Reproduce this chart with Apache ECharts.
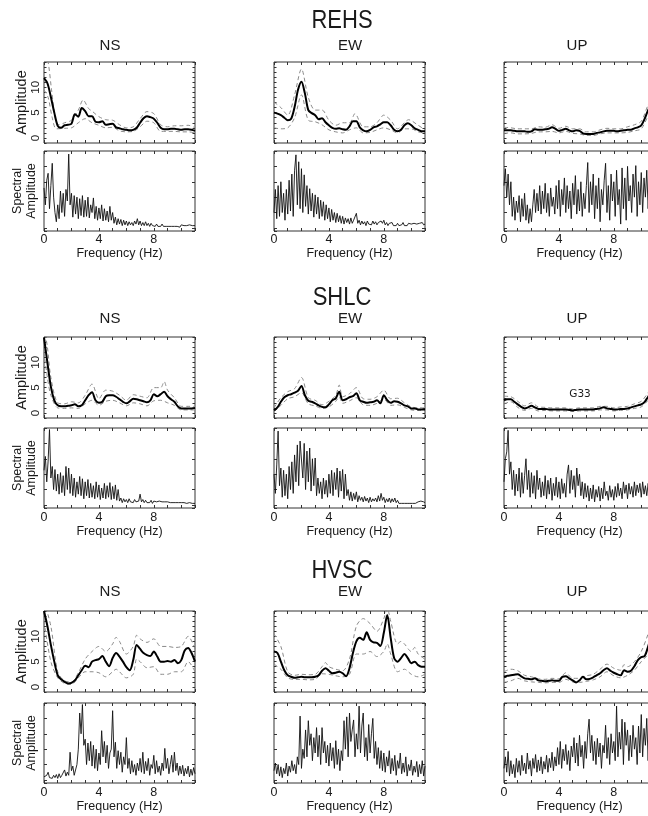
<!DOCTYPE html>
<html><head><meta charset="utf-8">
<script src="https://cdn.jsdelivr.net/npm/echarts@6/dist/echarts.min.js"></script>
<style>html,body{margin:0;padding:0;background:#fff}#c{width:648px;height:816px}</style>
</head><body><div id="c"></div>
<script>
// ---------- labels ----------
const stations = ['REHS', 'SHLC', 'HVSC'];
const components = ['NS', 'EW', 'UP'];
const xTickLabels = [0, 4, 8];
const ampTickLabels = [0, 5, 10];
const AMP_STEP = 0.25;   // Hz between mean-curve samples
const SPEC_STEP = 0.1;   // Hz between spectrum samples

// ---------- REHS ----------
const REHS_NS_mean = [11.8,10.8,8.1,5.0,2.4,2.0,2.5,2.6,2.8,4.7,4.2,5.9,5.3,4.3,4.3,3.2,3.1,3.3,2.6,2.7,2.8,2.1,1.9,1.7,1.6,1.5,1.6,2.0,3.0,3.9,4.3,4.1,3.8,3.0,2.0,1.7,1.7,1.8,1.8,1.7,1.6,1.7,1.7,1.6,1.4];
const REHS_NS_upper = [[0,18],[0.3,15],[0.55,9.5],[0.85,3.5],[1.1,2.6],[1.5,3.0],[2,3.5],[2.5,5.5],[2.85,7.5],[3.25,5.8],[3.5,5.3],[4,4.2],[4.5,3.6],[5,3.5],[5.5,2.6],[6,2.0],[6.5,2.2],[7,3.8],[7.5,5.2],[8,4.8],[8.5,2.6],[9,2.2],[9.5,2.4],[10,2.4],[10.5,2.5],[11,2.0]];
const REHS_NS_lower = [[0,9.5],[0.3,8],[0.6,4],[0.9,1.8],[1.5,1.9],[2,2.0],[2.5,3.0],[3,3.8],[3.5,3.0],[4,2.5],[4.5,2.0],[5,2.1],[5.5,1.4],[6,1.2],[6.5,1.3],[7,2.2],[7.5,3.3],[8,3.0],[8.5,1.3],[9,1.3],[9.5,1.3],[10,1.2],[10.5,1.2],[11,1.0]];
const REHS_NS_spec = [52,30,62,71,25,55,84,40,20,8, 30,12,48,20,45,15,50,35,96,30, 45,14,42,18,40,12,38,16,42,14, 36,15,40,13,30,20,39,12,28,10, 26,12,30,9,25,10,22,8,28,10, 20,6,14,4,12,5,11,3,10,4, 9,3,8,4,7,3,9,5,12,4, 9,3,7,3,8,3,6,2,6,3, 5,2,5,2,4,2,5,2,4,2, 4,2,4,2,3,2,4,2,3,1, 4,2,3,1,3,2,4,2,3,2, 3];

const REHS_EW_mean = [5.0,4.8,4.5,4.0,3.5,3.8,6.1,9.5,11.1,8.8,5.5,4.9,4.5,3.7,3.9,3.1,2.5,2.0,1.8,1.9,1.7,1.6,2.3,3.3,3.3,2.1,1.5,1.3,1.6,2.1,2.3,2.7,3.1,3.1,2.5,1.6,1.3,1.6,2.5,2.9,2.5,1.9,1.6,1.3,1.3];
const REHS_EW_upper = [[0,7.1],[0.5,6.0],[1,4.5],[1.5,8.5],[2,13.6],[2.5,8.0],[3,5.5],[3.5,5.5],[4,3.5],[4.5,2.5],[5,3.0],[5.5,3.0],[5.9,4.8],[6.5,2.2],[7,2.2],[7.5,3.0],[8,4.5],[8.5,3.5],[9,1.8],[9.5,3.0],[9.8,3.6],[10.5,2.5],[11,1.6]];
const REHS_EW_lower = [[0,2.0],[0.5,1.8],[1,2.0],[1.5,4.0],[2,8.5],[2.5,3.5],[3,3.2],[3.5,2.6],[4,1.6],[4.5,1.2],[5,1.0],[5.5,1.6],[6,2.0],[6.5,1.0],[7,1.1],[7.5,1.6],[8,2.0],[8.5,1.6],[9,1.0],[9.5,1.8],[10,1.8],[10.5,1.2],[11,1.0]];
const REHS_EW_spec = [20,50,12,55,15,60,20,45,10,50, 18,62,22,70,15,75,95,30,86,25, 77,20,69,28,55,18,51,22,45,14, 43,18,40,12,36,15,34,10,30,12, 26,8,24,10,20,7,19,8,16,6, 15,5,13,7,12,5,13,6,10,8, 19,6,10,4,9,5,8,3,9,5, 7,4,9,5,8,4,7,5,9,6, 10,4,7,3,6,4,7,3,5,3, 6,3,5,4,7,3,5,3,6,4, 5,3,6,4,5,3,6,4,7,4, 5];

const REHS_UP_mean = [1.5,1.5,1.5,1.4,1.3,1.3,1.3,1.2,1.3,1.7,1.6,1.6,1.7,1.8,2.1,1.8,1.4,1.6,1.8,1.5,1.3,1.5,1.4,0.9,0.8,0.8,0.8,1.0,1.1,1.3,1.4,1.4,1.4,1.3,1.4,1.5,1.6,1.6,1.9,2.1,2.5,3.8,5.5,6.5,7.5];
const REHS_UP_upper = [[0,2.1],[0.5,2.0],[1,1.8],[1.5,1.8],[2,1.8],[2.5,2.2],[3,2.1],[3.5,2.6],[4,1.9],[4.5,2.3],[5,1.8],[5.5,1.8],[6,1.2],[6.5,1.2],[7,1.6],[7.5,1.9],[8,1.8],[8.5,1.8],[9,2.2],[9.5,2.6],[10,3.3],[10.5,6.5],[11,8.5]];
const REHS_UP_lower = [[0,0.9],[0.5,1.0],[1,0.8],[1.5,0.8],[2,0.9],[2.5,1.2],[3,1.2],[3.5,1.3],[4,1.0],[4.5,1.3],[5,0.9],[5.5,0.8],[6,0.5],[6.5,0.5],[7,0.8],[7.5,1.0],[8,1.0],[8.5,1.0],[9,1.1],[9.5,1.4],[10,1.8],[10.5,4.3],[11,6.0]];
const REHS_UP_spec = [55,77,40,70,30,60,15,40,10,35, 20,42,8,38,15,45,10,30,6,25, 8,30,50,20,45,22,55,18,48,25, 58,20,45,15,52,28,40,18,55,25, 62,15,50,30,65,20,55,25,48,12, 58,30,68,18,50,22,60,15,45,25, 55,85,20,60,30,70,12,55,25,65, 8,50,30,62,84,20,55,10,70,35, 60,15,75,30,50,5,78,25,65,10, 80,35,55,20,70,40,81,15,60,30, 72,20,65,40,75,25,60,35,70,20, 55];

// ---------- SHLC ----------
const SHLC_NS_mean = [14.9,9.9,5.2,2.5,1.5,1.3,1.3,1.4,1.5,1.7,1.3,1.5,2.5,3.5,4.1,2.5,2.0,2.2,3.3,3.5,3.5,3.2,2.7,2.2,1.9,2.3,2.8,2.7,2.5,2.3,2.1,2.5,3.7,3.3,3.7,4.2,3.3,2.7,2.2,1.3,0.9,0.9,0.9,0.9,1.0];
const SHLC_NS_upper = [[0,17],[0.25,13],[0.5,7],[1,2.0],[1.5,1.8],[2,2.2],[2.5,2.0],[3,3.5],[3.5,5.7],[4,2.8],[4.5,4.5],[5,4.3],[5.5,3.5],[6,2.5],[6.5,3.6],[7,3.3],[7.5,3.0],[8,5.0],[8.5,5.0],[8.75,6.2],[9,4.5],[9.5,3.0],[10,1.3],[10.5,1.3],[11,1.3]];
const SHLC_NS_lower = [[0,12],[0.25,7],[0.5,3.5],[1,1.0],[1.5,0.9],[2,1.0],[2.5,0.9],[3,1.8],[3.5,2.5],[4,1.5],[4.5,2.3],[5,2.5],[5.5,2.0],[6,1.4],[6.5,2.0],[7,1.8],[7.5,1.4],[8,2.4],[8.5,2.5],[9,2.0],[9.5,1.5],[10,0.6],[10.5,0.6],[11,0.6]];
const SHLC_NS_spec = [45,63,30,57,98,35,50,20,46,18, 40,14,42,16,38,12,50,20,48,15, 40,12,35,10,30,14,37,12,34,8, 30,12,33,9,28,10,25,8,30,10, 26,7,22,9,28,8,25,10,29,7, 24,8,26,6,20,5,9,3,8,4, 7,3,8,4,6,3,7,4,6,5, 14,4,7,3,6,3,5,3,6,2, 5,3,4,2,5,3,4,2,4,2, 4,2,3,2,3,1,3,2,3,1, 3,2,3,1,2,1,3,1,2,3, 2];

const SHLC_EW_mean = [0.5,1.1,2.2,3.1,3.5,3.7,4.0,4.4,5.3,3.5,2.4,2.2,1.9,1.5,1.2,1.1,1.7,2.5,2.9,4.2,2.5,2.7,3.1,3.3,3.9,2.5,2.2,2.0,2.1,2.2,2.5,1.9,3.5,2.5,2.0,2.3,2.2,1.9,1.5,1.3,0.9,0.9,0.7,0.7,0.7];
const SHLC_EW_upper = [[0,1.0],[0.5,3.0],[1,4.2],[1.5,4.8],[2,7.0],[2.5,3.0],[3,2.5],[3.5,1.6],[4,2.3],[4.5,3.5],[4.75,5.5],[5,3.2],[5.5,3.8],[6,5.0],[6.5,2.8],[7,2.7],[7.5,3.2],[8,4.5],[8.5,2.8],[9,2.9],[9.5,2.0],[10,1.2],[10.5,1.0],[11,1.0]];
const SHLC_EW_lower = [[0,0.2],[0.5,1.5],[1,2.8],[1.5,3.2],[2,4.0],[2.5,1.8],[3,1.4],[3.5,0.9],[4,1.2],[4.5,2.3],[4.75,3.2],[5,1.9],[5.5,2.4],[6,3.0],[6.5,1.6],[7,1.5],[7.5,1.9],[8,2.7],[8.5,1.5],[9,1.6],[9.5,1.1],[10,0.6],[10.5,0.5],[11,0.5]];
const SHLC_EW_spec = [40,15,52,96,25,48,10,45,12,40, 8,50,20,56,15,65,30,78,25,83, 85,35,80,20,70,30,74,18,60,25, 61,12,35,15,30,8,35,14,32,10, 40,15,45,12,42,20,48,10,44,18, 46,8,40,12,20,6,17,5,15,7, 17,4,12,6,10,4,11,5,9,3, 10,4,8,5,9,4,12,5,15,6, 10,3,8,4,9,3,8,4,9,3, 6,2,4,2,4,2,3,2,4,2, 3,2,4,2,3,4,2,5,3,4, 3];

const SHLC_UP_mean = [2.5,2.7,2.7,2.2,1.7,1.2,0.9,1.1,1.4,1.1,0.8,0.8,0.8,0.7,0.7,0.7,0.7,0.7,0.7,0.6,0.5,0.6,0.7,0.7,0.7,0.7,0.7,0.8,0.9,1.1,0.9,0.8,0.7,0.7,0.8,0.8,0.9,1.1,1.3,1.5,1.7,2.2,3.2,4.0,5.0];
const SHLC_UP_upper = [[0,3.3],[0.5,3.2],[1,2.3],[1.5,1.4],[2,2.0],[2.5,1.2],[3,1.1],[3.5,1.0],[4,1.0],[4.5,1.0],[5,0.8],[5.5,1.0],[6,1.0],[6.5,1.0],[7,1.3],[7.5,1.3],[8,1.0],[8.5,1.2],[9,1.3],[9.5,1.8],[10,2.3],[10.5,4.0],[11,6.0]];
const SHLC_UP_lower = [[0,1.8],[0.5,2.2],[1,1.1],[1.5,0.5],[2,0.9],[2.5,0.4],[3,0.5],[3.5,0.4],[4,0.4],[4.5,0.4],[5,0.3],[5.5,0.4],[6,0.4],[6.5,0.4],[7,0.6],[7.5,0.6],[8,0.4],[8.5,0.5],[9,0.6],[9.5,0.9],[10,1.2],[10.5,2.5],[11,4.0]];
const SHLC_UP_spec = [30,60,69,97,40,56,20,45,12,40, 18,48,10,42,15,38,60,20,45,10, 42,15,38,8,45,20,35,10,30,12, 38,8,32,14,35,6,28,12,36,10, 30,8,34,15,28,10,40,52,15,45, 20,38,10,48,25,40,12,30,8,28, 10,25,5,22,8,26,4,20,10,24, 5,22,8,30,12,18,6,25,10,20, 6,24,10,28,12,22,8,30,15,26, 8,28,14,24,10,30,12,26,16,28, 10,30,14,25,12,28,15,22,10,26, 14];

// ---------- HVSC ----------
const HVSC_NS_mean = [15,12,8.3,5.0,2.3,1.5,1.0,0.7,0.8,1.3,2.3,3.3,4.2,3.9,5.0,5.3,5.5,6.1,5.0,4.1,5.7,6.7,6.0,5.0,3.9,3.3,5.3,8.3,7.5,6.7,6.3,6.1,7.0,6.0,5.0,5.0,5.1,5.0,5.3,4.7,5.3,7.2,7.7,6.7,5.0];
const HVSC_NS_upper = [[0,17],[0.5,12],[1,3.0],[1.5,1.2],[2,1.0],[2.5,2.8],[3,5.5],[3.5,7.0],[4,8.0],[4.5,7.0],[5,8.5],[5.25,9.8],[5.5,9.0],[6,6.5],[6.5,8.0],[6.75,10.2],[7,9.5],[7.5,8.8],[8,9.5],[8.5,8.0],[9,8.0],[9.5,7.8],[10,8.0],[10.5,10.0],[11,7.5]];
const HVSC_NS_lower = [[0,13],[0.5,5.0],[1,1.8],[1.5,0.7],[2,0.5],[2.5,1.8],[3,3.0],[3.5,3.0],[4,2.8],[4.5,2.0],[5,3.0],[5.25,3.5],[5.5,3.0],[6,1.8],[6.5,2.5],[6.75,5.5],[7,5.0],[7.5,3.8],[8,4.0],[8.5,2.5],[9,2.5],[9.5,3.0],[10,3.0],[10.5,5.0],[11,3.0]];
const HVSC_NS_spec = [4,2,6,10,3,5,2,6,3,7, 2,8,3,6,4,13,5,10,6,36, 12,18,6,8,20,40,87,60,98,45, 53,20,48,25,50,18,45,15,40,12, 35,20,64,30,50,22,45,15,35,40, 90,30,49,15,38,20,36,10,30,20, 55,15,28,8,25,10,20,6,22,12, 28,10,36,8,24,12,28,6,20,15, 32,8,25,10,18,6,22,12,41,15, 28,8,20,32,10,36,12,22,6,18, 8,19,5,15,8,18,4,14,6,16, 8];

const HVSC_EW_mean = [7.0,6.7,5.0,3.3,2.3,2.0,1.8,1.9,2.0,1.9,1.9,1.9,2.0,2.3,3.2,3.7,3.2,2.7,2.8,3.0,2.7,2.1,3.7,6.7,9.0,9.7,9.3,10.8,9.3,8.8,8.7,8.1,10.7,14.2,9.7,5.7,5.0,5.7,6.5,5.7,4.7,5.0,4.3,4.0,4.0];
const HVSC_EW_upper = [[0,10.5],[0.5,8.0],[1,3.0],[1.5,2.3],[2,2.5],[2.5,2.4],[3,2.5],[3.5,4.0],[3.75,4.8],[4,4.0],[4.5,3.5],[5,3.2],[5.5,5.5],[6,12.0],[6.5,13.5],[7,12.5],[7.5,11.0],[8,13.5],[8.25,15.5],[8.5,13.0],[9,8.5],[9.25,9.0],[9.5,8.5],[10,7.0],[10.25,7.8],[10.5,6.5],[11,5.5]];
const HVSC_EW_lower = [[0,4.5],[0.5,3.5],[1,1.8],[1.5,1.5],[2,1.5],[2.5,1.4],[3,1.5],[3.5,2.6],[4,2.5],[4.5,2.2],[5,2.0],[5.5,2.5],[6,6.5],[6.5,6.5],[7,7.0],[7.5,6.0],[8,7.0],[8.25,8.5],[8.5,6.5],[9,3.0],[9.5,3.5],[10,2.5],[10.5,2.0],[11,2.5]];
const HVSC_EW_spec = [12,22,8,20,5,17,3,15,8,22, 5,18,10,25,12,20,8,30,20,83, 15,40,28,65,30,77,45,60,25,55, 35,68,30,58,20,68,35,50,22,45, 18,48,25,42,15,51,20,40,12,38, 25,77,40,82,30,87,50,65,78,30, 60,40,96,35,70,87,30,55,25,72, 35,60,80,28,50,20,42,15,38,12, 35,10,30,18,38,8,28,12,32,6, 25,15,35,8,22,10,30,5,20,12, 26,6,18,10,24,4,20,8,25,5, 18];

const HVSC_UP_mean = [2.0,2.2,2.3,2.4,2.5,2.1,1.7,1.6,1.5,1.7,1.3,1.2,1.1,1.2,1.3,1.2,1.2,2.0,2.1,1.7,1.3,0.9,1.3,2.0,1.5,1.6,1.9,2.3,2.7,3.3,3.7,3.2,2.8,2.5,2.3,3.3,3.0,3.2,4.1,5.3,5.9,6.1,8.0,10.3,12.7];
const HVSC_UP_upper = [[0,3.0],[0.5,3.5],[1,3.2],[1.5,2.3],[2,2.0],[2.5,1.6],[3,1.5],[3.5,1.7],[4,1.6],[4.5,2.8],[5,1.7],[5.5,1.7],[6,2.2],[6.5,2.5],[7,3.5],[7.5,4.5],[8,3.7],[8.5,3.3],[8.75,4.4],[9,4.0],[9.5,5.0],[10,7.0],[10.5,10.5],[11,15]];
const HVSC_UP_lower = [[0,0.9],[0.5,1.2],[1,1.7],[1.5,1.2],[2,1.0],[2.5,0.9],[3,0.8],[3.5,0.9],[4,0.9],[4.5,1.5],[5,1.0],[5.5,0.9],[6,1.1],[6.5,1.4],[7,2.0],[7.5,3.0],[8,2.2],[8.5,1.8],[9,2.3],[9.5,3.3],[10,5.0],[10.5,6.5],[11,10]];
const HVSC_UP_spec = [15,30,10,37,5,25,8,20,3,28, 10,25,6,32,12,22,8,35,14,25, 5,28,15,33,10,26,12,30,8,24, 14,32,10,28,16,36,12,30,18,42, 20,50,15,40,25,46,20,38,12,44, 30,55,22,48,18,58,30,45,15,50, 28,60,79,35,58,25,50,20,54,30, 48,15,45,35,71,28,55,20,60,35, 50,25,96,30,62,40,79,20,75,45, 65,25,58,30,71,40,55,20,70,35, 85,30,67,45,80,25,72,40,60,30, 65];

const panelData = [
  [REHS_NS_mean, REHS_NS_upper, REHS_NS_lower, REHS_NS_spec],
  [REHS_EW_mean, REHS_EW_upper, REHS_EW_lower, REHS_EW_spec],
  [REHS_UP_mean, REHS_UP_upper, REHS_UP_lower, REHS_UP_spec],
  [SHLC_NS_mean, SHLC_NS_upper, SHLC_NS_lower, SHLC_NS_spec],
  [SHLC_EW_mean, SHLC_EW_upper, SHLC_EW_lower, SHLC_EW_spec],
  [SHLC_UP_mean, SHLC_UP_upper, SHLC_UP_lower, SHLC_UP_spec],
  [HVSC_NS_mean, HVSC_NS_upper, HVSC_NS_lower, HVSC_NS_spec],
  [HVSC_EW_mean, HVSC_EW_upper, HVSC_EW_lower, HVSC_EW_spec],
  [HVSC_UP_mean, HVSC_UP_upper, HVSC_UP_lower, HVSC_UP_spec]
];

// ---------- layout / style ----------
const FONT = 'Liberation Sans, Arial, Helvetica, sans-serif';
const TEXT = '#1a1a1a';
const AXIS = '#333';
const COL_LEFT = [44, 274, 504], PANEL_W = 151;
const AMP_TOP = [62, 337, 611], AMP_H = 81;
const SPEC_TOP = [151, 428, 703], SPEC_H = 80;
const STATION_Y = [21, 298, 571], COMP_Y = [46, 319, 592];
const COMP_X = [110, 350, 577];
const X_LABEL_MARGIN = [2, 3, 3], X_NAME_GAP = [15, 17, 17];

const grids = [], xAxes = [], yAxes = [], series = [];

function tick(len) { return {show: true, inside: true, length: len, lineStyle: {color: AXIS, width: 1}}; }

function addPanel(left, top, height, isSpec, row, col, seriesList) {
  const g = grids.length;
  grids.push({left: left, top: top, width: PANEL_W, height: height, show: true,
    borderColor: AXIS, borderWidth: 1, backgroundColor: 'transparent',
    containLabel: false, outerBoundsMode: 'none'});
  const xi = xAxes.length, yi = yAxes.length;
  xAxes.push({gridIndex: g, type: 'value', min: 0, max: 11, interval: 1, position: 'bottom',
    axisLine: {show: false, onZero: false}, splitLine: {show: false}, axisTick: tick(3),
    axisLabel: {show: isSpec, margin: X_LABEL_MARGIN[row], fontSize: 12.5, color: TEXT, fontFamily: FONT,
      formatter: v => xTickLabels.includes(v) ? String(v) : ''},
    name: isSpec ? 'Frequency (Hz)' : '', nameLocation: 'middle', nameGap: X_NAME_GAP[row],
    nameTextStyle: {fontSize: 12.5, color: TEXT, fontFamily: FONT}});
  xAxes.push({gridIndex: g, type: 'value', min: 0, max: 11, interval: 1, position: 'top',
    axisLine: {show: false, onZero: false}, splitLine: {show: false}, axisTick: tick(3),
    axisLabel: {show: false}});
  if (!isSpec) {
    yAxes.push({gridIndex: g, type: 'value', min: -1, max: 15, interval: 1, position: 'left',
      axisLine: {show: false, onZero: false}, splitLine: {show: false}, axisTick: tick(2.5),
      axisLabel: {show: col === 0, rotate: 90, margin: 2, fontSize: 11.5, color: TEXT, fontFamily: FONT,
        formatter: v => ampTickLabels.includes(v) ? String(v) : ''},
      name: col === 0 ? 'Amplitude' : '', nameLocation: 'middle', nameRotate: 90, nameGap: 15,
      nameTextStyle: {fontSize: 14.5, color: TEXT, fontFamily: FONT}});
    yAxes.push({gridIndex: g, type: 'value', min: -1, max: 15, interval: 1, position: 'right',
      axisLine: {show: false, onZero: false}, splitLine: {show: false}, axisTick: tick(2.5),
      axisLabel: {show: false}});
  } else {
    yAxes.push({gridIndex: g, type: 'value', min: -4, max: 100, position: 'left',
      axisLine: {show: false, onZero: false}, splitLine: {show: false}, axisTick: tick(3),
      axisLabel: {show: false},
      name: col === 0 ? 'Spectral\nAmplitude' : '', nameLocation: 'middle', nameRotate: 90, nameGap: 6,
      nameTextStyle: {fontSize: 12.5, lineHeight: 13.5, color: TEXT, fontFamily: FONT}});
    yAxes.push({gridIndex: g, type: 'value', min: -4, max: 100, position: 'right',
      axisLine: {show: false, onZero: false}, splitLine: {show: false}, axisTick: tick(3),
      axisLabel: {show: false}});
  }
  seriesList.forEach(s => { s.xAxisIndex = xi; s.yAxisIndex = yi; series.push(s); });
}

function lineSeries(data, style, smooth) {
  return {type: 'line', data: data, symbol: 'none', silent: true, smooth: smooth,
    clip: true, lineStyle: style, animation: false};
}

for (let r = 0; r < 3; r++) {
  for (let c = 0; c < 3; c++) {
    const [mean, upper, lower, spec] = panelData[r * 3 + c];
    const meanPts = mean.map((v, i) => [i * AMP_STEP, v]);
    const specPts = spec.map((v, i) => [+(i * SPEC_STEP).toFixed(2), v]);
    addPanel(COL_LEFT[c], AMP_TOP[r], AMP_H, false, r, c, [
      lineSeries(upper, {color: '#8a8a8a', width: 1, type: [4, 3]}, 0.3),
      lineSeries(lower, {color: '#8a8a8a', width: 1, type: [4, 3]}, 0.3),
      lineSeries(meanPts, {color: '#000', width: 2}, 0.3)
    ]);
    addPanel(COL_LEFT[c], SPEC_TOP[r], SPEC_H, true, r, c, [
      lineSeries(specPts, {color: '#111', width: 0.9}, false)
    ]);
  }
}

const graphics = [];
function txt(x, y, s, size, family, sy) {
  graphics.push({type: 'text', x: x, y: y, scaleY: sy || 1, silent: true, style: {text: s, fontSize: size,
    fontFamily: family || FONT, fill: TEXT, align: 'center', verticalAlign: 'middle',
    textAlign: 'center', textVerticalAlign: 'middle'}});
}
for (let r = 0; r < 3; r++) {
  txt(342, STATION_Y[r], stations[r], 22, FONT, 1.15);
  for (let c = 0; c < 3; c++) txt(COMP_X[c], COMP_Y[r], components[c], 15);
}
txt(580, 394, 'G33', 10.5, 'DejaVu Sans, sans-serif');

const chart = echarts.init(document.getElementById('c'), null, {renderer: 'canvas'});
chart.setOption({
  animation: false,
  backgroundColor: '#fff',
  grid: grids, xAxis: xAxes, yAxis: yAxes, series: series, graphic: graphics
});
</script>
</body></html>
